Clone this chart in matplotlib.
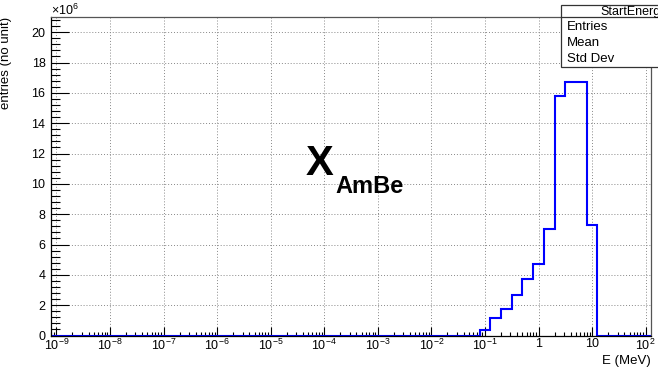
import numpy as np
import matplotlib.pyplot as plt
from matplotlib.patches import Rectangle
from matplotlib.ticker import FixedLocator, FuncFormatter, MultipleLocator

plt.rcParams['font.family'] = ['Liberation Sans', 'DejaVu Sans']
plt.rcParams['mathtext.fontset'] = 'custom'
plt.rcParams['mathtext.rm'] = 'Liberation Sans'
plt.rcParams['mathtext.it'] = 'Liberation Sans:italic'
plt.rcParams['mathtext.bf'] = 'Liberation Sans:bold'

# binning: 56 log bins, 0.2 decade wide, 10^-9.1 .. 10^2.1 MeV
log_lo = -9.1
log_hi = 2.1
n_bins = 56
# filled bins start at bin 40 (10^-1.1 MeV); entries in units of 1e6
first_bin = 40
entries_1e6 = [0.33, 1.18, 1.77, 2.68, 3.73, 4.74, 7.02, 15.8, 16.72, 16.72, 7.28]

edges = np.logspace(log_lo, log_hi, n_bins + 1)
counts = np.zeros(n_bins)
counts[first_bin:first_bin + len(entries_1e6)] = entries_1e6

W, H = 658, 372
fig = plt.figure(figsize=(W / 100, H / 100), dpi=100)
ax = fig.add_axes([51 / W, 1 - 335.5 / H, 600 / W, 318.5 / H])

ax.stairs(counts, edges, color='#0000ff', lw=1.5, baseline=0)

ax.set_xscale('log')
ax.set_xlim(edges[0], edges[-1])
ax.set_ylim(0, 21)

# x ticks like ROOT: decades, 2..9 minors
majors = [10.0 ** k for k in range(-9, 3)]
minors = [m * 10.0 ** k for k in range(-10, 3) for m in range(2, 10)]
ax.xaxis.set_major_locator(FixedLocator(majors))
ax.xaxis.set_minor_locator(FixedLocator(minors))


def xfmt(v, pos):
    k = int(round(np.log10(v)))
    if k == 0:
        return '1'
    if k == 1:
        return '10'
    return r'$10^{%d}$' % k


ax.xaxis.set_major_formatter(FuncFormatter(xfmt))
ax.xaxis.set_minor_formatter(FuncFormatter(lambda v, p: ''))
ax.yaxis.set_major_locator(MultipleLocator(2))
ax.yaxis.set_minor_locator(MultipleLocator(0.4))

ax.tick_params(axis='x', which='major', direction='in', length=6.5, width=0.8, labelsize=9, pad=2, top=False)
ax.tick_params(axis='x', which='minor', direction='in', length=3.2, width=0.8, top=False)
ax.tick_params(axis='y', which='major', direction='in', length=13, width=0.8, labelsize=9, pad=4, right=False)
ax.tick_params(axis='y', which='minor', direction='in', length=6.5, width=0.8, right=False)

ax.grid(True, which='major', color='#888888', linestyle=(0, (1, 2)), lw=0.7)
ax.set_axisbelow(True)
for s in ax.spines.values():
    s.set_linewidth(0.9)
    s.set_color('#555555')
ax.spines['left'].set_color('black')
ax.spines['bottom'].set_color('black')

ax.set_ylabel('entries (no unit)', fontsize=9.5, loc='top')
ax.yaxis.set_label_coords(-0.065, 1.0)
ax.set_xlabel('E (MeV)', fontsize=9.5, loc='right')
ax.xaxis.set_label_coords(1.0, -0.062)

fig.text(51 / W, 1 - 15 / H, r'$\times10^{6}$', fontsize=9, ha='left', va='baseline')

# "X_AmBe" label
fig.text(306 / W, 1 - 175 / H, 'X', fontsize=30, fontweight='bold', ha='left', va='baseline')
fig.text(335 / W, 1 - 193 / H, 'AmBe', fontsize=17, fontweight='bold', ha='left', va='baseline')

# stats box (cut off at the right edge, as in the original)
fig.patches.append(Rectangle((561 / W, 1 - 67 / H), 200 / W, 62 / H, transform=fig.transFigure,
                             facecolor='white', edgecolor='#333333', lw=0.9, zorder=5))
fig.lines.append(plt.Line2D([561 / W, 1.0], [1 - 17.3 / H, 1 - 17.3 / H], transform=fig.transFigure,
                            color='#333333', lw=0.9, zorder=6))
fig.text(600 / W, 1 - 11.5 / H, 'StartEnergy', fontsize=9, ha='left', va='center', zorder=7)
for label, yy in [('Entries', 27), ('Mean', 43), ('Std Dev', 59)]:
    fig.text(567 / W, 1 - yy / H, label, fontsize=9.5, ha='left', va='center', zorder=7)

fig.savefig('out.png', dpi=100)
